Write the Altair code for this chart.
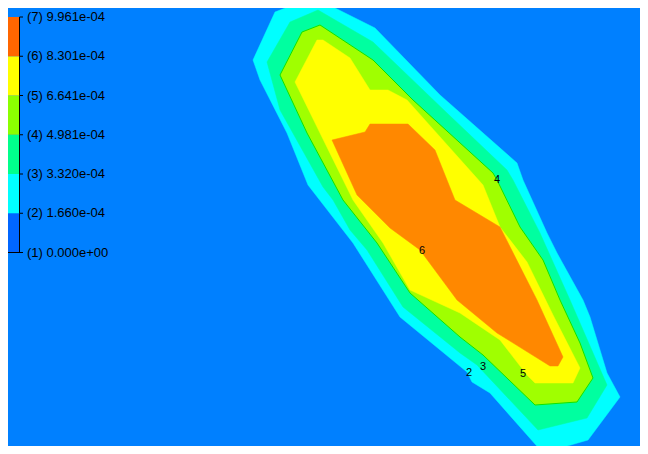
import altair as alt
import pandas as pd

# ---- contour band polygons (reference pixel coordinates, y grows downward) ----
cyan_x = [253, 275, 306, 323, 327, 375, 440, 517, 523, 547, 557, 583, 590, 607, 620, 588, 543, 490, 472, 467, 400, 353, 308, 287, 260]
cyan_y = [60, 12, 0, 0, 4, 28, 95, 163, 180, 233, 253, 300, 317, 373, 397, 440, 453, 393, 382, 372, 317, 243, 185, 133, 80]

sea_x = [267, 290, 318, 373, 447, 507, 513, 540, 570, 607, 587, 538, 477, 460, 403, 367, 350, 333, 323, 280]
sea_y = [62, 22, 10, 42, 113, 170, 180, 233, 300, 385, 418, 430, 365, 353, 307, 250, 230, 200, 187, 110]

green_x = [280, 302, 320, 373, 413, 493, 497, 520, 543, 560, 580, 593, 577, 535, 483, 460, 410, 377, 343, 307]
green_y = [75, 32, 25, 60, 100, 173, 180, 227, 260, 300, 343, 378, 402, 405, 355, 337, 293, 243, 200, 133]

yellow_x = [295, 317, 323, 350, 370, 388, 407, 483, 500, 527, 553, 580, 573, 535, 527, 500, 460, 410, 383, 353, 320]
yellow_y = [82, 40, 40, 58, 90, 90, 100, 185, 227, 262, 315, 368, 383, 383, 375, 340, 313, 290, 243, 200, 133]

orange_x = [332, 365, 370, 408, 435, 455, 500, 537, 563, 558, 550, 497, 457, 420, 390, 357]
orange_y = [140, 132, 124, 124, 150, 200, 227, 300, 357, 366, 366, 333, 300, 250, 228, 195]

# contour labels
lab_text = ["2", "3", "4", "5", "6"]
lab_x = [469, 483, 497, 523, 422]
lab_y = [373, 367, 180, 374, 251]

# legend
legend_levels = [1, 2, 3, 4, 5, 6, 7]
legend_values = [0.0, 1.660e-04, 3.320e-04, 4.981e-04, 6.641e-04, 8.301e-04, 9.961e-04]
legend_colors = ["#0066FF", "#00FFFF", "#00FF8C", "#8CFF00", "#FFFF00", "#FF6600"]

BG = "#0080FF"
band_colors = {"cyan": "#00FFFF", "sea": "#00FFA0", "green": "#A0FF00",
               "yellow": "#FFFF00", "orange": "#FF8800"}

W, H = 632, 438
xs = alt.Scale(domain=[8, 8 + W], nice=False, zero=False)
ys = alt.Scale(domain=[8, 8 + H], nice=False, zero=False, reverse=True)


def poly_df(px, py):
    xx = list(px) + [px[0]]
    yy = list(py) + [py[0]]
    return pd.DataFrame({"x": xx, "y": yy, "i": list(range(len(xx)))})


def band(px, py, color):
    return alt.Chart(poly_df(px, py)).mark_line(
        fill=color, stroke=color, strokeWidth=0.5, interpolate="linear"
    ).encode(
        x=alt.X("x:Q", scale=xs, axis=None),
        y=alt.Y("y:Q", scale=ys, axis=None),
        order="i:Q",
    )


layers = [
    band(cyan_x, cyan_y, band_colors["cyan"]),
    band(sea_x, sea_y, band_colors["sea"]),
    band(green_x, green_y, band_colors["green"]),
    alt.Chart(poly_df(green_x, green_y)).mark_line(
        stroke="#00E000", strokeWidth=0.9, interpolate="linear"
    ).encode(
        x=alt.X("x:Q", scale=xs, axis=None),
        y=alt.Y("y:Q", scale=ys, axis=None),
        order="i:Q",
    ),
    band(yellow_x, yellow_y, band_colors["yellow"]),
    band(orange_x, orange_y, band_colors["orange"]),
]

lab_df = pd.DataFrame({"x": lab_x, "y": lab_y, "t": lab_text})
layers.append(
    alt.Chart(lab_df).mark_text(font="Liberation Sans", fontSize=11, color="black").encode(
        x=alt.X("x:Q", scale=xs, axis=None),
        y=alt.Y("y:Q", scale=ys, axis=None),
        text="t:N",
    )
)

# legend (own scale)
ls = alt.Scale(domain=[1, 7], range=[244.5, 9], nice=False, zero=False)
seg_df = pd.DataFrame({"lo": legend_levels[:-1], "hi": legend_levels[1:], "c": legend_colors})
lev_df = pd.DataFrame({
    "lv": legend_levels,
    "lab": [f"({k}) {v:.3e}" for k, v in zip(legend_levels, legend_values)],
})

layers.append(
    alt.Chart(seg_df).mark_rect().encode(
        x=alt.value(0), x2=alt.value(11),
        y=alt.Y("lo:Q", scale=ls, axis=None), y2="hi:Q",
        color=alt.Color("c:N", scale=None),
    )
)
layers.append(
    alt.Chart(seg_df).mark_rule(color="black", strokeWidth=1).encode(
        x=alt.value(11.5),
        y=alt.Y("lo:Q", scale=ls, axis=None), y2="hi:Q",
    )
)
layers.append(
    alt.Chart(lev_df).mark_rule(color="black", strokeWidth=1).encode(
        x=alt.value(11.5), x2=alt.value(15),
        y=alt.Y("lv:Q", scale=ls, axis=None),
    )
)
layers.append(
    alt.Chart(lev_df[lev_df["lv"] == 1]).mark_rule(color="black", strokeWidth=1).encode(
        x=alt.value(0), x2=alt.value(15),
        y=alt.Y("lv:Q", scale=ls, axis=None),
    )
)
layers.append(
    alt.Chart(lev_df).mark_text(
        font="Liberation Sans", fontSize=13, color="black", align="left", baseline="middle"
    ).encode(
        x=alt.value(19),
        y=alt.Y("lv:Q", scale=ls, axis=None),
        text="lab:N",
    )
)

chart = alt.layer(*layers).resolve_scale(
    x="independent", y="independent"
).properties(
    width=W, height=H, padding=0,
    autosize=alt.AutoSizeParams(type="none"),
    background=BG,
).configure_view(stroke=None)

chart.save("out.html", embed_options={"renderer": "svg", "actions": False})
